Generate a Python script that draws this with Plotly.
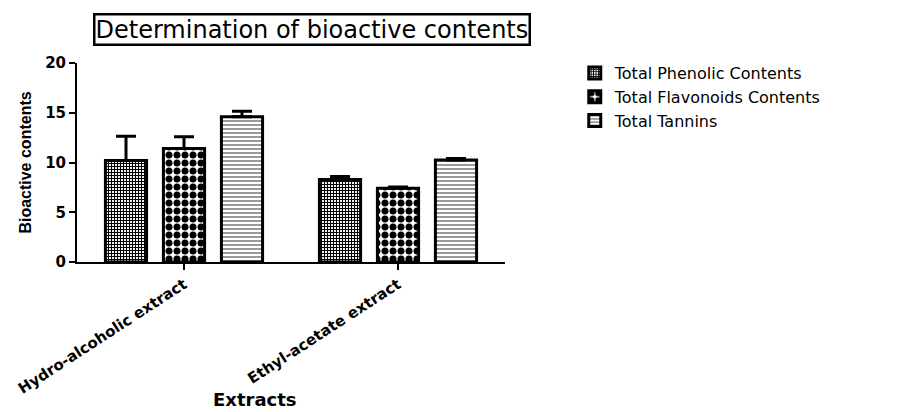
import plotly.graph_objects as go

categories = ["Hydro-alcoholic extract", "Ethyl-acetate extract"]
series_names = ["Total Phenolic Contents", "Total Flavonoids Contents", "Total Tannins"]
phenolic = [10.2, 8.3]
phenolic_err = [2.45, 0.3]
flavonoids = [11.4, 7.4]
flavonoids_err = [1.2, 0.15]
tannins = [14.6, 10.25]
tannins_err = [0.55, 0.15]

patterns = [
    dict(shape="+", size=3, solidity=0.6, fgcolor="black", bgcolor="white", fgopacity=1),
    dict(shape=".", size=8, solidity=0.6, fgcolor="black", bgcolor="white", fgopacity=1),
    dict(shape="-", size=4, solidity=0.3, fgcolor="#555", bgcolor="white", fgopacity=1),
]
values = [phenolic, flavonoids, tannins]
errors = [phenolic_err, flavonoids_err, tannins_err]

fig = go.Figure()
for name, vals, errs, pat in zip(series_names, values, errors, patterns):
    fig.add_trace(go.Bar(
        x=categories, y=vals, name=name,
        marker=dict(color="white", pattern=pat, line=dict(color="black", width=3)),
        error_y=dict(type="data", array=errs, arrayminus=[0]*len(errs), symmetric=False,
                     color="black", thickness=3, width=10),
    ))

fig.update_layout(
    width=896, height=404,
    margin=dict(l=69, r=399, t=55, b=150),
    plot_bgcolor="white", paper_bgcolor="white",
    barmode="group", bargap=0.187, bargroupgap=0.29,
    font=dict(family="DejaVu Sans, Liberation Sans, Arial, sans-serif", color="black"),
    showlegend=True,
    legend=dict(x=1.163, y=1.035, xanchor="left", yanchor="top",
                font=dict(size=16), tracegroupgap=0, itemwidth=30),
    xaxis=dict(showline=True, linecolor="black", linewidth=2, ticks="outside",
               ticklen=6, tickwidth=2, tickcolor="black", tickangle=-33,
               tickfont=dict(size=15, weight="bold"), automargin=False),
    yaxis=dict(range=[0, 20], tickvals=[0, 5, 10, 15, 20], showline=True,
               linecolor="black", linewidth=2, ticks="outside", ticklen=6,
               tickwidth=2, tickcolor="black", showgrid=False, zeroline=False,
               tickfont=dict(size=15, weight="bold"), automargin=False,
               title=dict(text="<b>Bioactive contents</b>", font=dict(size=16,
                          family="Liberation Sans, Arial"), standoff=10)),
    annotations=[
        dict(text="Determination of bioactive contents", xref="paper", yref="paper",
             x=0.55, y=1.166, xanchor="center", yanchor="middle", showarrow=False,
             font=dict(size=24), bordercolor="black", borderwidth=2.5,
             borderpad=0, bgcolor="white"),
        dict(text="<b>Extracts</b>", xref="paper", yref="paper", x=0.416, y=-0.693,
             xanchor="center", yanchor="middle", showarrow=False, font=dict(size=18)),
    ],
)
fig.write_html("out.html")
